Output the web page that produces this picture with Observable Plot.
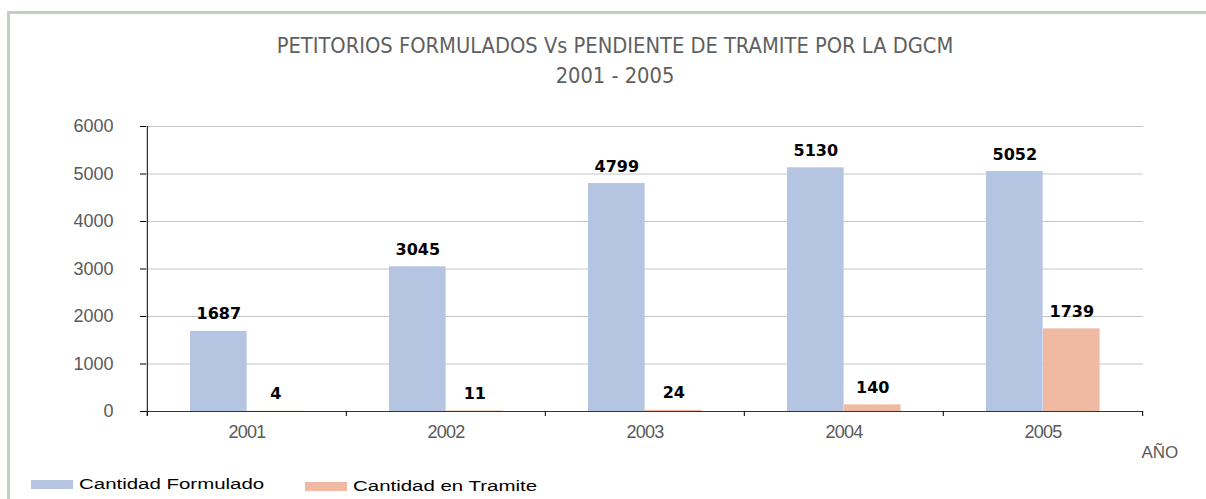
<!DOCTYPE html>
<html><head><meta charset="utf-8">
<script src="https://cdn.jsdelivr.net/npm/d3@7"></script>
<script src="https://cdn.jsdelivr.net/npm/@observablehq/plot@0.6"></script>
<style>
html,body{margin:0;padding:0;background:#fff;width:1206px;height:499px;overflow:hidden;}
#wrap{position:relative;width:1206px;height:499px;}
.frame{position:absolute;left:7px;top:11px;right:0;bottom:0;border-left:3px solid #C4CFC4;border-top:3px solid #C4CFC4;}
.title{position:absolute;left:0;width:1230px;text-align:center;font-family:"DejaVu Sans Condensed","DejaVu Sans",sans-serif;font-stretch:condensed;font-size:21.7px;line-height:22px;color:#5f5f5f;letter-spacing:0;white-space:nowrap;}
#chart{position:absolute;left:0;top:110px;}
.sw{position:absolute;width:42px;height:9px;}
.lg{position:absolute;font-family:"Liberation Sans",Arial,sans-serif;font-size:14px;line-height:14px;color:#000;white-space:nowrap;transform:scaleX(1.46);transform-origin:0 0;}
g[aria-label="x-axis tick label"] text{letter-spacing:-0.7px;}
</style>
</head><body>
<div id="wrap">
  <div class="frame"></div>
  <div class="title" id="t1" style="top:35px"></div>
  <div class="title" id="t2" style="top:65px"></div>
  <div id="chart"></div>
  <div class="sw" id="sw1" style="left:31px;top:480px"></div>
  <div class="lg" id="lg1" style="left:79px;top:477px"></div>
  <div class="sw" id="sw2" style="left:305px;top:482px"></div>
  <div class="lg" id="lg2" style="left:353px;top:479px"></div>
</div>
<script>
const titleText = "PETITORIOS FORMULADOS Vs PENDIENTE DE TRAMITE POR LA DGCM";
const subtitleText = "2001 - 2005";
const years = ["2001", "2002", "2003", "2004", "2005"];
const formulado = [1687, 3045, 4799, 5130, 5052];
const tramite = [4, 11, 24, 140, 1739];
const seriesNames = ["Cantidad Formulado", "Cantidad en Tramite"];
const seriesColors = ["#B5C4E1", "#F0B9A2"];
const yTicks = [0, 1000, 2000, 3000, 4000, 5000, 6000];
const xLabel = "AÑO";

document.getElementById("t1").textContent = titleText;
document.getElementById("t2").textContent = subtitleText;
document.getElementById("lg1").textContent = seriesNames[0];
document.getElementById("lg2").textContent = seriesNames[1];
document.getElementById("sw1").style.background = seriesColors[0];
document.getElementById("sw2").style.background = seriesColors[1];

const W = 1206, H = 360, mL = 146, mR = 63, mT = 16, mB = 59;
const bw = (W - mL - mR) / years.length;
const barW = 57, gapL = 43;

const dataF = years.map((y, i) => ({year: y, value: formulado[i]}));
const dataT = years.map((y, i) => ({year: y, value: tramite[i]}));

const labelStyle = {fontFamily: "DejaVu Sans", fontWeight: "bold", fontSize: 16, fill: "black", lineAnchor: "bottom", dy: -12};

const chart = Plot.plot({
  width: W, height: H,
  marginLeft: mL, marginRight: mR, marginTop: mT, marginBottom: mB,
  x: {domain: years, padding: 0, label: null},
  y: {domain: [0, 6000], label: null},
  marks: [
    Plot.gridY(yTicks.filter(v => v > 0), {stroke: "#C6C6C6", strokeOpacity: 1}),
    Plot.barY(dataF, {x: "year", y: "value", fill: seriesColors[0], insetLeft: gapL, insetRight: bw - gapL - barW}),
    Plot.barY(dataT, {x: "year", y: "value", fill: seriesColors[1], insetLeft: gapL + barW, insetRight: bw - gapL - 2 * barW}),
    Plot.ruleY([0], {stroke: "#333"}),
    Plot.ruleX([years[0]], {x: d => d, dx: -bw / 2, stroke: "black", insetBottom: -5}),
    Plot.ruleX(years, {x: d => d, dx: -bw / 2, y1: 0, y2: 0, insetBottom: -5, stroke: "black"}),
    Plot.ruleX([years[years.length - 1]], {x: d => d, dx: bw / 2, y1: 0, y2: 0, insetBottom: -5, stroke: "black"}),
    Plot.axisY(yTicks, {tickSize: 6, tickPadding: 27, tickFormat: d => String(d), stroke: "black", fill: "#595959", fontSize: 18, fontFamily: "Liberation Sans", label: null}),
    Plot.axisX({tickSize: 0, tickPadding: 14, fill: "#595959", fontSize: 18, fontFamily: "Liberation Sans", label: null}),
    Plot.text(dataF, {x: "year", y: "value", text: d => String(d.value), dx: gapL + barW / 2 - bw / 2, ...labelStyle}),
    Plot.text(dataT, {x: "year", y: "value", text: d => String(d.value), dx: gapL + 1.5 * barW - bw / 2, ...labelStyle}),
    Plot.text([xLabel], {text: d => d, frameAnchor: "bottom-right", dx: -2, dy: 46, textAnchor: "start", fontFamily: "Liberation Sans", fontSize: 17, fill: "#595959"})
  ]
});
document.getElementById("chart").appendChild(chart);
</script>
</body></html>
